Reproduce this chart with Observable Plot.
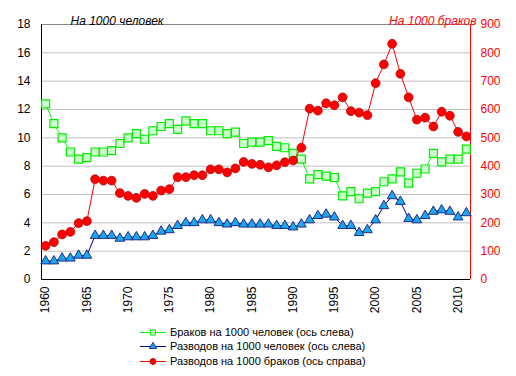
<!DOCTYPE html>
<html><head><meta charset="utf-8">
<script src="https://cdn.jsdelivr.net/npm/d3@7"></script>
<script src="https://cdn.jsdelivr.net/npm/@observablehq/plot@0.6"></script>
<style>
body{margin:0;background:#fff;font-family:Arial,"Liberation Sans",sans-serif;}
#legend{height:56px;padding-top:5px;box-sizing:border-box;font-size:11px;color:#000;}
.row{display:flex;align-items:center;height:14.3px;margin-left:140px;white-space:nowrap;}
.row svg{margin-right:4px;}
</style>
</head><body>
<div id="chart"></div>
<div id="legend"></div>
<script>
const years = [1960,1961,1962,1963,1964,1965,1966,1967,1968,1969,
  1970,1971,1972,1973,1974,1975,1976,1977,1978,1979,
  1980,1981,1982,1983,1984,1985,1986,1987,1988,1989,
  1990,1991,1992,1993,1994,1995,1996,1997,1998,1999,
  2000,2001,2002,2003,2004,2005,2006,2007,2008,2009,2010,2011];
const marriagesPer1000 = [12.4,11.0,10.0,9.0,8.5,8.6,9.0,9.0,9.1,9.6,
  10.0,10.3,9.9,10.5,10.8,11.0,10.6,11.2,11.0,11.0,
  10.5,10.5,10.3,10.4,9.6,9.7,9.7,9.8,9.4,9.3,
  8.9,8.5,7.1,7.4,7.3,7.2,5.9,6.2,5.7,6.1,
  6.2,6.9,7.1,7.6,6.8,7.5,7.8,8.9,8.3,8.5,8.5,9.2];
const divorcesPer1000 = [1.3,1.3,1.5,1.5,1.7,1.7,3.1,3.1,3.1,2.9,
  3.0,3.0,3.0,3.1,3.4,3.5,3.8,4.0,4.0,4.2,
  4.2,4.0,3.9,4.0,3.9,3.9,3.9,3.9,3.8,3.8,
  3.7,3.9,4.2,4.5,4.6,4.4,3.8,3.8,3.3,3.5,
  4.2,5.2,5.9,5.5,4.3,4.2,4.5,4.8,4.9,4.8,4.4,4.7];
const divorcesPer1000Marriages = [119,132,159,168,199,206,354,349,349,305,
  295,288,302,295,314,319,361,361,368,368,
  389,389,378,392,415,408,405,396,403,414,
  420,465,603,596,622,615,643,594,589,580,
  693,759,832,726,643,564,571,540,592,578,521,505];
const leftTicks = [0,2,4,6,8,10,12,14,16,18];
const yearTicks = [1960,1965,1970,1975,1980,1985,1990,1995,2000,2005,2010];
const leftTitle = "На 1000 человек";
const rightTitle = "На 1000 браков";
const seriesNames = ["Браков на 1000 человек (ось слева)","Разводов на 1000 человек (ось слева)","Разводов на 1000 браков (ось справа)"];

const k = 50; // 900 / 18 : right axis to left axis
const data = years.map((year,i)=>({year, m: marriagesPer1000[i], d: divorcesPer1000[i], r: divorcesPer1000Marriages[i]}));

const green = {line:"#00ff00", stroke:"#00ee00", fill:"#ccffcc"};
const blue = {line:"#000080", stroke:"#1f2d8a", fill:"#1aa7ec"};
const red = {line:"#ff0000", stroke:"#c00000", fill:"#ff0000"};

const plot = Plot.plot({
  width: 516, height: 320,
  marginLeft: 41, marginRight: 46, marginTop: 24, marginBottom: 41,
  style: {fontFamily: "Arial, 'Liberation Sans', sans-serif", fontSize: "12px", background: "white", overflow: "visible"},
  x: {domain: [1959.5, 2011.5], axis: null},
  y: {domain: [0, 18], axis: null},
  marks: [
    Plot.ruleY(leftTicks.filter(t => t > 0 && t < 18), {stroke: "#c0c0c0"}),
    Plot.ruleY([18], {stroke: "#868686"}),
    Plot.ruleY([0], {stroke: "#000"}),
    Plot.ruleX([1959.5], {stroke: "#000"}),
    Plot.ruleX([2011.5], {stroke: "#ff0000"}),
    Plot.axisY({ticks: leftTicks, tickSize: 0, tickPadding: 11, label: null, fill: "#000"}),
    Plot.axisY({anchor: "right", ticks: leftTicks, tickFormat: d => String(d * k), tickSize: 0, tickPadding: 10, label: null, fill: "#ff0000"}),
    Plot.axisX({ticks: yearTicks, tickFormat: d => String(d), tickRotate: -90, tickSize: 0, tickPadding: 7, label: null, fill: "#000"}),
    Plot.line(data, {x: "year", y: "m", stroke: green.line, strokeWidth: 1}),
    Plot.dot(data, {x: "year", y: "m", symbol: "square", r: 4.5, stroke: green.stroke, fill: green.fill, strokeWidth: 1.2}),
    Plot.line(data, {x: "year", y: "d", stroke: blue.line, strokeWidth: 1}),
    Plot.dot(data, {x: "year", y: "d", symbol: "triangle", r: 3.6, stroke: blue.stroke, fill: blue.fill, strokeWidth: 1}),
    Plot.line(data, {x: "year", y: d => d.r / k, stroke: red.line, strokeWidth: 1}),
    Plot.dot(data, {x: "year", y: d => d.r / k, symbol: "circle", r: 4.4, stroke: red.stroke, fill: red.fill, strokeWidth: 0.8}),
    Plot.text([leftTitle], {frameAnchor: "top-left", dx: 29, dy: -8, textAnchor: "start", fontStyle: "italic", fill: "#000"}),
    Plot.text([rightTitle], {frameAnchor: "top-right", dx: 6, dy: -8, textAnchor: "end", fontStyle: "italic", fill: "#ff0000"})
  ]
});
document.getElementById("chart").append(plot);

const legendSpecs = [
  {name: seriesNames[0], c: green, sym: "square"},
  {name: seriesNames[1], c: blue, sym: "triangle"},
  {name: seriesNames[2], c: red, sym: "circle"}
];
const legend = document.getElementById("legend");
for (const s of legendSpecs) {
  const row = document.createElement("div");
  row.className = "row";
  const ns = "http://www.w3.org/2000/svg";
  const svg = document.createElementNS(ns, "svg");
  svg.setAttribute("width", 26); svg.setAttribute("height", 12);
  const ln = document.createElementNS(ns, "line");
  ln.setAttribute("x1", 0); ln.setAttribute("x2", 26); ln.setAttribute("y1", 6.5); ln.setAttribute("y2", 6.5);
  ln.setAttribute("stroke", s.c.line);
  svg.append(ln);
  const p = document.createElementNS(ns, "path");
  const sym = s.sym === "square" ? d3.symbolSquare : s.sym === "triangle" ? d3.symbolTriangle : d3.symbolCircle;
  p.setAttribute("d", d3.symbol(sym, s.sym === "triangle" ? 22 : 26)());
  p.setAttribute("transform", "translate(13,6.5)");
  p.setAttribute("fill", s.c.fill); p.setAttribute("stroke", s.c.stroke);
  svg.append(p);
  row.append(svg);
  const t = document.createElement("span");
  t.textContent = s.name;
  row.append(t);
  legend.append(row);
}
</script>
</body></html>
